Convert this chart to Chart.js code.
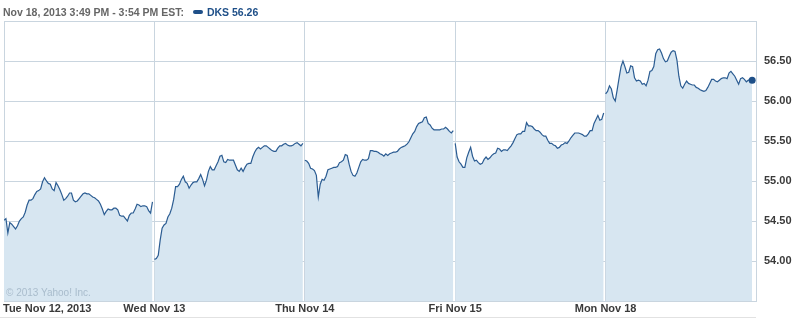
<!DOCTYPE html>
<html>
<head>
<meta charset="utf-8">
<script src="https://cdn.jsdelivr.net/npm/chart.js@4.4.0/dist/chart.umd.min.js"></script>
<style>
  html, body { margin: 0; padding: 0; background: #fff; }
  #wrap { position: relative; width: 807px; height: 319px; overflow: hidden;
          font-family: Tahoma, "Liberation Sans", Arial, sans-serif; }
  #chart { position: absolute; left: 0; top: 0; }
  #header { position: absolute; left: 3px; top: 5px; font-size: 10.5px; font-weight: bold;
            color: #666; white-space: nowrap; line-height: 14px; }
  #header .sym { color: #1e4f88; margin-left: 9px; }
  #header .swatch { display: inline-block; width: 10px; height: 4px; background: #1e4f88;
                    border-radius: 2px; vertical-align: middle; margin-right: 4px; position: relative; top: -1px; }
  #copy { position: absolute; left: 6px; top: 287px; font-size: 10px; color: #a9bccc;
          font-family: "Liberation Sans", Arial, sans-serif; }
  #rule { position: absolute; left: 0; top: 317px; width: 756px; height: 1px; background: #e2e2e2; }
</style>
</head>
<body>
<div id="wrap">
  <canvas id="chart" width="807" height="319"></canvas>
  <div id="header">Nov 18, 2013 3:49 PM - 3:54 PM EST:<span class="sym"><span class="swatch"></span>DKS 56.26</span></div>
  <div id="copy">© 2013 Yahoo! Inc.</div>
  <div id="rule"></div>
</div>
<script>
// =============================================================================
// DATA  (DKS, 5-minute readings from 9:30 each session)
// =============================================================================
const dayLabels = ["Tue Nov 12, 2013", "Wed Nov 13", "Thu Nov 14", "Fri Nov 15", "Mon Nov 18"];
const yTickValues = [54.0, 54.5, 55.0, 55.5, 56.0, 56.5];
const sessionMinutes = 390;
const stepMinutes = 5;

const tuePrices = [
  54.51, 54.53, 54.35, 54.48, 54.46, 54.43, 54.40, 54.44, 54.50, 54.53,
  54.55, 54.61, 54.70, 54.76, 54.76, 54.78, 54.83, 54.87, 54.88, 54.90,
  54.99, 55.04, 55.00, 54.97, 54.96, 54.90, 54.88, 54.98, 54.94, 54.89,
  54.83, 54.76, 54.78, 54.81, 54.85, 54.85, 54.76, 54.74, 54.75, 54.78,
  54.81, 54.84, 54.85, 54.84, 54.84, 54.82, 54.80, 54.79, 54.77, 54.75,
  54.71, 54.65, 54.58, 54.62, 54.65, 54.64, 54.64, 54.66, 54.66, 54.64,
  54.57, 54.56, 54.56, 54.53, 54.50, 54.57, 54.60, 54.60, 54.65, 54.71,
  54.70, 54.68, 54.69, 54.69, 54.68, 54.63, 54.60, 54.74];

const wedPrices = [
  54.02, 54.03, 54.07, 54.26, 54.41, 54.45, 54.47, 54.55, 54.59, 54.66,
  54.77, 54.93, 54.93, 54.96, 55.02, 55.06, 54.99, 54.97, 54.91, 54.95,
  54.98, 54.99, 54.99, 55.03, 55.08, 55.02, 54.94, 55.01, 55.12, 55.18,
  55.14, 55.14, 55.19, 55.24, 55.31, 55.32, 55.24, 55.23, 55.27, 55.26,
  55.26, 55.26, 55.20, 55.14, 55.12, 55.16, 55.12, 55.17, 55.21, 55.22,
  55.22, 55.30, 55.36, 55.40, 55.42, 55.40, 55.42, 55.44, 55.44, 55.42,
  55.40, 55.38, 55.37, 55.37, 55.41, 55.44, 55.44, 55.46, 55.47, 55.45,
  55.44, 55.44, 55.45, 55.47, 55.48, 55.46, 55.44, 55.47];

const thuPrices = [
  55.26, 55.25, 55.22, 55.16, 55.15, 55.13, 55.07, 54.80, 54.96, 55.02,
  55.01, 55.06, 55.14, 55.15, 55.16, 55.17, 55.17, 55.18, 55.23, 55.24,
  55.26, 55.33, 55.32, 55.21, 55.12, 55.07, 55.06, 55.10, 55.17, 55.24,
  55.27, 55.26, 55.26, 55.28, 55.38, 55.38, 55.37, 55.37, 55.36, 55.34,
  55.33, 55.31, 55.34, 55.32, 55.34, 55.35, 55.36, 55.36, 55.37, 55.40,
  55.42, 55.43, 55.44, 55.46, 55.49, 55.54, 55.59, 55.62, 55.68, 55.72,
  55.73, 55.74, 55.79, 55.80, 55.72, 55.70, 55.66, 55.64, 55.64, 55.64,
  55.64, 55.65, 55.65, 55.67, 55.65, 55.62, 55.60, 55.63];

const friPrices = [
  55.47, 55.30, 55.24, 55.21, 55.17, 55.17, 55.29, 55.36, 55.42, 55.31,
  55.25, 55.26, 55.23, 55.21, 55.22, 55.27, 55.30, 55.27, 55.29, 55.32,
  55.34, 55.35, 55.41, 55.40, 55.37, 55.39, 55.39, 55.38, 55.41, 55.44,
  55.48, 55.53, 55.58, 55.59, 55.59, 55.62, 55.62, 55.73, 55.69, 55.69,
  55.68, 55.65, 55.63, 55.63, 55.61, 55.58, 55.56, 55.56, 55.51, 55.47,
  55.47, 55.45, 55.44, 55.41, 55.42, 55.45, 55.46, 55.48, 55.47, 55.50,
  55.54, 55.57, 55.60, 55.60, 55.60, 55.59, 55.58, 55.56, 55.56, 55.59,
  55.63, 55.63, 55.72, 55.77, 55.82, 55.76, 55.77, 55.85];

const monPrices = [
  56.09, 56.12, 56.19, 56.15, 56.04, 56.00, 56.14, 56.29, 56.43, 56.50,
  56.43, 56.35, 56.36, 56.44, 56.43, 56.29, 56.25, 56.26, 56.25, 56.21,
  56.22, 56.19, 56.26, 56.37, 56.38, 56.43, 56.59, 56.64, 56.65, 56.60,
  56.53, 56.49, 56.50, 56.56, 56.61, 56.63, 56.62, 56.51, 56.31, 56.19,
  56.16, 56.21, 56.25, 56.22, 56.21, 56.20, 56.20, 56.17, 56.16, 56.14,
  56.13, 56.12, 56.13, 56.17, 56.22, 56.27, 56.27, 56.25, 56.24, 56.26,
  56.28, 56.29, 56.29, 56.28, 56.35, 56.37, 56.34, 56.31, 56.26, 56.21,
  56.28, 56.29, 56.27, 56.24, 56.26, 56.26, 56.26];

const sessions = [tuePrices, wedPrices, thuPrices, friPrices, monPrices];

// =============================================================================
// BUILD POINTS (null between sessions so the line breaks overnight)
// =============================================================================
const points = [];
sessions.forEach((prices, d) => {
  if (d > 0) points.push({ x: d * sessionMinutes - 1, y: null });
  prices.forEach((p, i) => points.push({ x: d * sessionMinutes + i * stepMinutes, y: p }));
});
const lastIndex = points.length - 1;

// =============================================================================
// COLORS
// =============================================================================
const LINE = "#2b5c92";
const FILL = "#d7e6f1";
const GRID = "#c9d5df";
const TEXT = "#3a3a3a";
const FONT = 'Tahoma, "Liberation Sans", Arial, sans-serif';

// x labels under each day boundary (first one left-aligned)
const dayLabelPlugin = {
  id: "dayLabels",
  afterDraw(chart) {
    const { ctx, scales } = chart;
    ctx.save();
    ctx.font = "bold 11px " + FONT;
    ctx.fillStyle = TEXT;
    ctx.textBaseline = "middle";
    dayLabels.forEach((label, i) => {
      const x = scales.x.getPixelForValue(i * sessionMinutes);
      ctx.textAlign = i === 0 ? "left" : "center";
      ctx.fillText(label, i === 0 ? x - 1 : x, chart.chartArea.bottom + 8);
    });
    ctx.restore();
  }
};

new Chart(document.getElementById("chart").getContext("2d"), {
  type: "line",
  data: {
    datasets: [{
      data: points,
      borderColor: LINE,
      backgroundColor: FILL,
      borderWidth: 1.2,
      fill: "start",
      tension: 0,
      spanGaps: false,
      pointRadius: ctx => (ctx.index === lastIndex ? 3.5 : 0),
      pointBackgroundColor: "#1e4f88",
      pointBorderWidth: 0
    }]
  },
  options: {
    responsive: false,
    animation: false,
    layout: { padding: { left: 3, top: 21, right: 0, bottom: 0 } },
    plugins: { legend: { display: false }, tooltip: { enabled: false } },
    scales: {
      x: {
        type: "linear",
        min: 0,
        max: sessionMinutes * dayLabels.length,
        afterBuildTicks: s => {
          s.ticks = dayLabels.map((_, i) => ({ value: i * sessionMinutes }))
            .concat([{ value: sessionMinutes * dayLabels.length }]);
        },
        afterFit: s => { s.height = 18; },
        ticks: { display: false },
        grid: { color: GRID, drawTicks: false },
        border: { color: GRID }
      },
      y: {
        position: "right",
        min: 53.5,
        max: 57.0,
        afterFit: s => { s.width = 51; },
        ticks: {
          stepSize: 0.5,
          padding: 8,
          color: TEXT,
          font: { family: FONT, size: 11, weight: "bold" },
          callback: v => (yTickValues.includes(v) ? v.toFixed(2) : "")
        },
        grid: { color: GRID, drawTicks: false },
        border: { color: GRID }
      }
    }
  },
  plugins: [dayLabelPlugin]
});
</script>
</body>
</html>
